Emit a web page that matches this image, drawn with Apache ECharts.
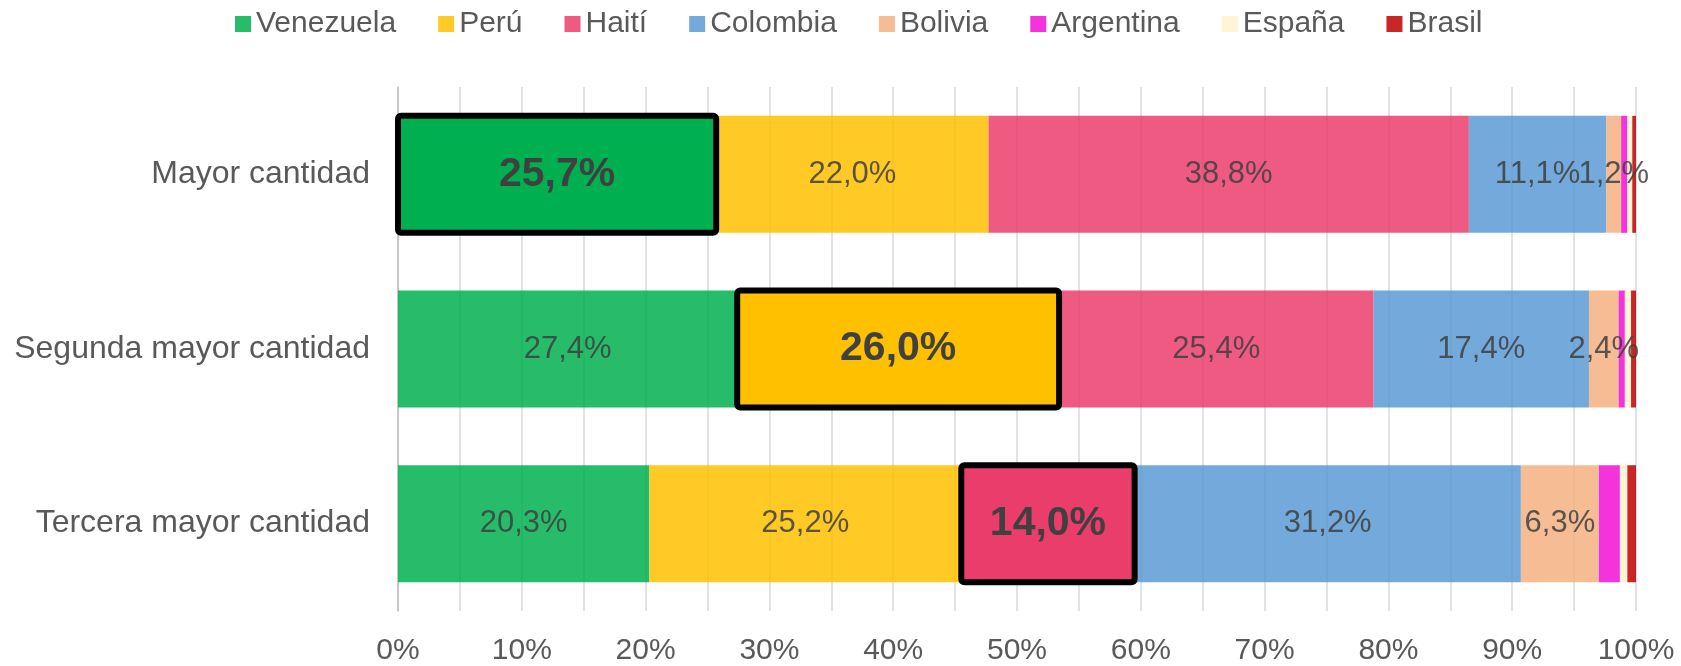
<!DOCTYPE html>
<html>
<head>
<meta charset="utf-8">
<script src="https://cdn.jsdelivr.net/npm/echarts@6/dist/echarts.min.js"></script>
<style>
  html, body { margin: 0; padding: 0; background: #fff; }
  #chart { width: 1681px; height: 666px; }
</style>
</head>
<body>
<div id="chart"></div>
<script>
const categories = ['Mayor cantidad', 'Segunda mayor cantidad', 'Tercera mayor cantidad'];
const countries = ['Venezuela', 'Perú', 'Haití', 'Colombia', 'Bolivia', 'Argentina', 'España', 'Brasil'];

const venezuela = [25.7, 27.4, 20.3];
const peru      = [22.0, 26.0, 25.2];
const haiti     = [38.8, 25.4, 14.0];
const colombia  = [11.1, 17.4, 31.2];
const bolivia   = [1.2, 2.4, 6.3];
const argentina = [0.5, 0.5, 1.7];
const espana    = [0.4, 0.5, 0.6];
const brasil    = [0.3, 0.4, 0.7];

// which country is highlighted in each row (index into countries)
const highlight = [0, 1, 2];

const xTicks = [0, 10, 20, 30, 40, 50, 60, 70, 80, 90, 100];

const values = [venezuela, peru, haiti, colombia, bolivia, argentina, espana, brasil];
const colors = ['#00B050', '#FFC000', '#EB3D6C', '#5B9BD5', '#F4B183', '#F20FD6', '#FFF2CC', '#C00000'];
const withLabel = [true, true, true, true, true, false, false, false];

const FONT = 'Liberation Sans, Arial, sans-serif';
const BAR_W = 117;

const fmt = v => v.toFixed(1).replace('.', ',') + '%';

const series = countries.map((name, si) => ({
  name: name,
  type: 'bar',
  stack: 'total',
  barWidth: BAR_W,
  itemStyle: { color: colors[si], opacity: 0.85 },
  label: {
    show: withLabel[si],
    position: 'inside',
    color: '#404040',
    fontFamily: FONT,
    fontSize: 31,
    formatter: p => fmt(p.value)
  },
  data: values[si].map((v, ri) => {
    if (highlight[ri] !== si) return v;
    return {
      value: v,
      itemStyle: { opacity: 1 },
      label: { fontSize: 41, fontWeight: 'bold' }
    };
  })
}));

// outline boxes for the highlighted segments, drawn on top
const boxes = highlight.map((si, ri) => {
  let start = 0;
  for (let k = 0; k < si; k++) start += values[k][ri];
  return [start, start + values[si][ri], ri];
});

series.push({
  type: 'custom',
  z: 5,
  silent: true,
  encode: { x: [0, 1], y: 2 },
  data: boxes,
  renderItem: (params, api) => {
    const a = api.coord([api.value(0), api.value(2)]);
    const b = api.coord([api.value(1), api.value(2)]);
    return {
      type: 'rect',
      shape: { x: a[0], y: a[1] - BAR_W / 2, width: b[0] - a[0], height: BAR_W, r: 3 },
      style: { fill: 'none', stroke: '#000', lineWidth: 6 }
    };
  }
});

const option = {
  animation: false,
  textStyle: { fontFamily: FONT },
  legend: {
    data: countries,
    left: 230,
    top: 4,
    icon: 'rect',
    itemWidth: 16,
    itemHeight: 16,
    itemGap: 42,
    textStyle: { fontFamily: FONT, fontSize: 30, color: '#595959' }
  },
  grid: { left: 398, right: 45, top: 87, bottom: 53 },
  xAxis: {
    type: 'value',
    min: xTicks[0],
    max: xTicks[xTicks.length - 1],
    interval: 10,
    axisLine: { show: false },
    axisTick: { show: false },
    axisLabel: { color: '#595959', fontSize: 30, fontFamily: FONT, margin: 25, formatter: '{value}%' },
    splitLine: { show: true, lineStyle: { color: '#D9D9D9', width: 1.5 } },
    minorTick: { show: false, splitNumber: 2 },
    minorSplitLine: { show: true, lineStyle: { color: '#D9D9D9', width: 1.5 } }
  },
  yAxis: {
    type: 'category',
    inverse: true,
    data: categories,
    axisLine: { show: true, lineStyle: { color: '#BFBFBF', width: 1.5 } },
    axisTick: { show: false },
    axisLabel: { color: '#595959', fontSize: 32, fontFamily: FONT, margin: 28 }
  },
  series: series
};

const chart = echarts.init(document.getElementById('chart'));
chart.setOption(option);
</script>
</body>
</html>
